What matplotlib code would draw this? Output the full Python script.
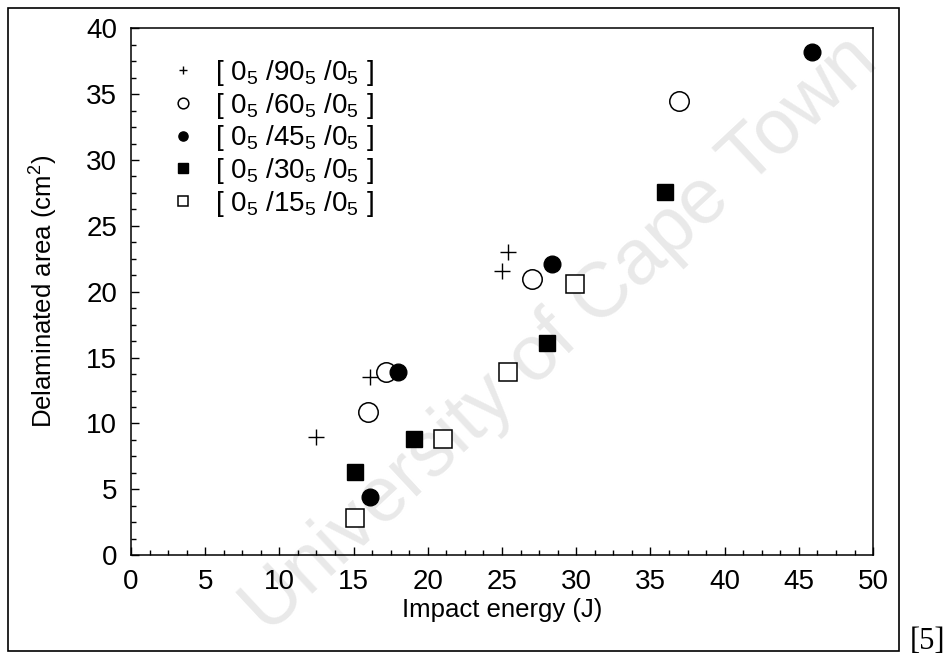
import matplotlib
matplotlib.use("Agg")
import matplotlib.pyplot as plt
from matplotlib.patches import Rectangle
from matplotlib.ticker import MultipleLocator

# impact energy (J) and delaminated area (cm^2) for each lay-up
e90 = [12.5, 16.1, 25.0, 25.4]
a90 = [9.0, 13.5, 21.6, 23.0]
e60 = [16.0, 17.2, 27.0, 36.9]
a60 = [10.9, 13.9, 21.0, 34.5]
e45 = [16.1, 18.0, 28.4, 45.9]
a45 = [4.4, 13.9, 22.1, 38.2]
e30 = [15.1, 19.1, 28.0, 36.0]
a30 = [6.3, 8.8, 16.1, 27.6]
e15 = [15.1, 21.0, 25.4, 29.9]
a15 = [2.8, 8.8, 13.9, 20.6]

labels = [r'[ $0_5$ /$90_5$ /$0_5$ ]', r'[ $0_5$ /$60_5$ /$0_5$ ]',
          r'[ $0_5$ /$45_5$ /$0_5$ ]', r'[ $0_5$ /$30_5$ /$0_5$ ]',
          r'[ $0_5$ /$15_5$ /$0_5$ ]']

plt.rcParams['font.family'] = ['Liberation Sans', 'DejaVu Sans']
plt.rcParams['mathtext.fontset'] = 'custom'
plt.rcParams['mathtext.rm'] = 'Liberation Sans'
plt.rcParams['mathtext.it'] = 'Liberation Sans'
plt.rcParams['mathtext.bf'] = 'Liberation Sans'

fig = plt.figure(figsize=(9.49, 6.57), dpi=100)
ax = fig.add_axes([0.138, 0.155, 0.782, 0.802])
ax.set_facecolor('none')

# faint scan watermark
fig.text(0.59, 0.49, 'University of Cape Town', rotation=43, fontsize=56,
         color='#e9e9e9', ha='center', va='center', zorder=-5)

ax.plot(e90, a90, '+', color='black', ms=11, mew=1.0, ls='none', label=labels[0])
ax.plot(e60, a60, 'o', mfc='white', mec='black', ms=14, mew=1.1, ls='none', label=labels[1])
ax.plot(e45, a45, 'o', color='black', ms=12, ls='none', label=labels[2])
ax.plot(e30, a30, 's', color='black', ms=12, ls='none', label=labels[3])
ax.plot(e15, a15, 's', mfc='white', mec='black', ms=13, mew=1.1, ls='none', label=labels[4])

ax.set_xlim(0, 50)
ax.set_ylim(0, 40)
ax.xaxis.set_major_locator(MultipleLocator(5))
ax.yaxis.set_major_locator(MultipleLocator(5))
ax.xaxis.set_minor_locator(MultipleLocator(1.25))
ax.yaxis.set_minor_locator(MultipleLocator(1.25))
ax.tick_params(which='both', direction='in', top=False, right=False, width=1)
ax.tick_params(which='major', length=6, labelsize=20, pad=10)
ax.tick_params(which='minor', length=3.5)
for s in ax.spines.values():
    s.set_linewidth(1.1)

ax.set_xlabel('Impact energy (J)', fontsize=18.5)
ax.set_ylabel('Delaminated area (cm$^2$)', fontsize=18.5)
ax.xaxis.set_label_coords(0.5, -0.082)
ax.yaxis.set_label_coords(-0.095, 0.5)

ax.legend(loc='upper left', bbox_to_anchor=(0.035, 0.965), frameon=False,
          fontsize=20, markerscale=0.55, handletextpad=0.6, labelspacing=0.1,
          handlelength=1.1, borderaxespad=0)

# outer frame and reference tag from the source document
fig.patches.append(Rectangle((0.0084, 0.009), 0.939, 0.979, transform=fig.transFigure,
                             fill=False, edgecolor='black', linewidth=1.2))
fig.text(0.977, 0.024, '[5]', fontsize=22, family='Liberation Serif',
         ha='center', va='center')

fig.savefig('out.png', dpi=100)
